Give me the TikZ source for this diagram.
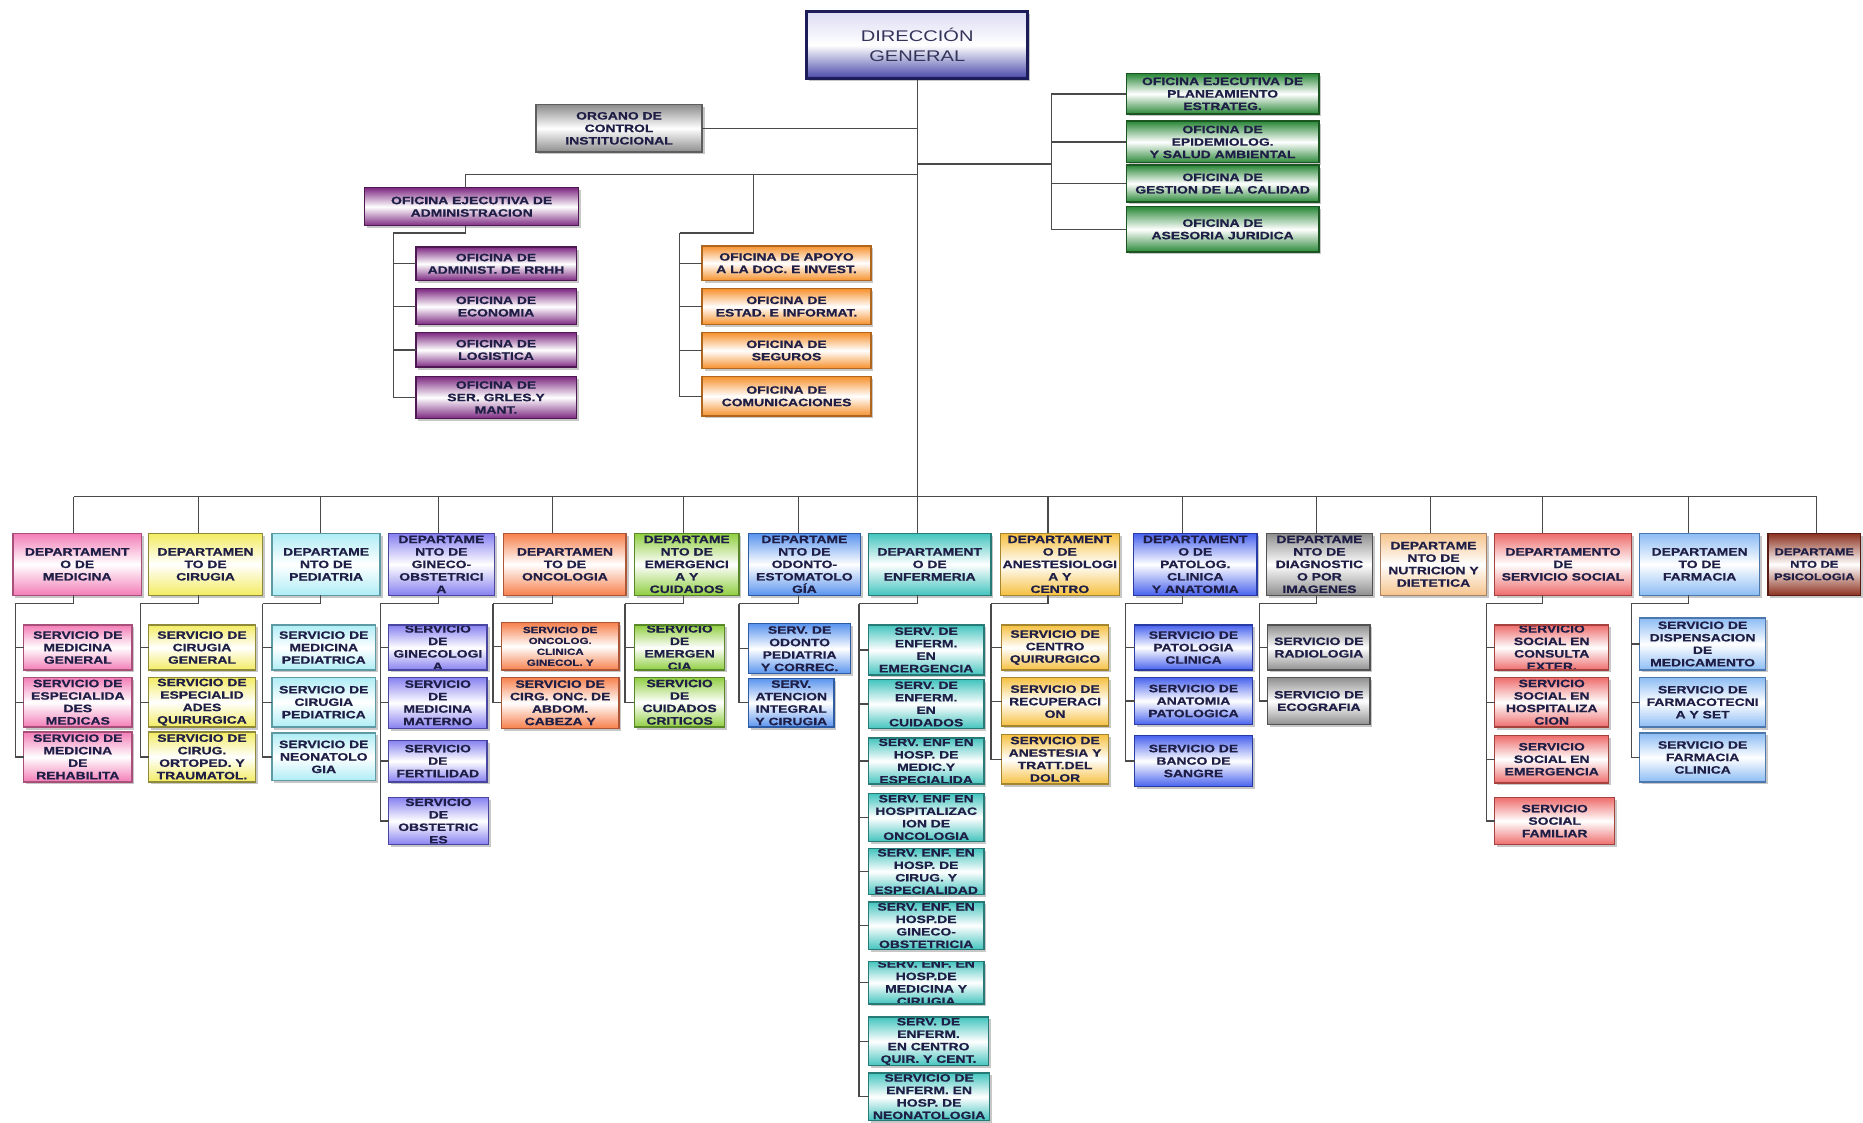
\documentclass[tikz,border=0pt]{standalone}
\usepackage{fontspec}
\setmainfont{Liberation Sans}
\newfontfamily\bxfont{Liberation Sans}[FakeStretch=1.3,FakeBold=0.8]
\newfontfamily\dgfont{Liberation Sans}[FakeStretch=1.3]
\usetikzlibrary{calc}
\definecolor{txtc}{HTML}{1E1E46}
\definecolor{lnc}{HTML}{4A4A4A}
\definecolor{dgT}{HTML}{DCDCF4}
\definecolor{dgB}{HTML}{4646A8}
\definecolor{dgD}{HTML}{1C1C58}
\definecolor{dgText}{HTML}{34345A}
\definecolor{gryC}{HTML}{8C8C8C}\definecolor{gryD}{HTML}{5E5E5E}
\definecolor{dgnC}{HTML}{2A8838}\definecolor{dgnD}{HTML}{1A5522}
\definecolor{purC}{HTML}{7E2A82}\definecolor{purD}{HTML}{4E1952}
\definecolor{orgC}{HTML}{F6922E}\definecolor{orgD}{HTML}{B0661C}
\definecolor{pinkC}{HTML}{F37DB7}\definecolor{pinkD}{HTML}{A8507A}
\definecolor{yelC}{HTML}{F3EC62}\definecolor{yelD}{HTML}{8E8A3A}
\definecolor{cyaC}{HTML}{AEEDF5}\definecolor{cyaD}{HTML}{5E9AA4}
\definecolor{lavC}{HTML}{8780F0}\definecolor{lavD}{HTML}{4846A0}
\definecolor{salC}{HTML}{F7804C}\definecolor{salD}{HTML}{AE5638}
\definecolor{grnC}{HTML}{90CE40}\definecolor{grnD}{HTML}{58882A}
\definecolor{bluC}{HTML}{5A94EE}\definecolor{bluD}{HTML}{2E5CA4}
\definecolor{teaC}{HTML}{44C4BE}\definecolor{teaD}{HTML}{287A76}
\definecolor{golC}{HTML}{F6C040}\definecolor{golD}{HTML}{A4862E}
\definecolor{royC}{HTML}{4862EE}\definecolor{royD}{HTML}{283AA4}
\definecolor{dgyC}{HTML}{8E8E8E}\definecolor{dgyD}{HTML}{525252}
\definecolor{pchC}{HTML}{F6C48C}\definecolor{pchD}{HTML}{A68268}
\definecolor{redC}{HTML}{EE6C6C}\definecolor{redD}{HTML}{A6423E}
\definecolor{lblC}{HTML}{8CBCF4}\definecolor{lblD}{HTML}{4C78AE}
\definecolor{brnC}{HTML}{8C3220}\definecolor{brnD}{HTML}{581C12}
\tikzset{
  bx/.style={draw=#1D, line width=1.2pt, top color=#1C, bottom color=#1C, middle color=white, inner sep=0pt, outer sep=0pt},
  txt/.style={align=center, text=txtc, inner sep=0pt, font=\bxfont\bfseries\fontsize{9}{10.5}\selectfont},
  con/.style={draw=lnc, line width=1.1pt},
  shd/.style={fill=black, opacity=0.22},
}
% #1 extra text options, #2 name, #3 x1, #4 y1, #5 x2, #6 y2, #7 colour, #8 text
\newcommand\ob[8][]{%
  \fill[shd] ({#3+2},{#4+2}) rectangle ({#5+2},{#6+2});
  \node[bx=#7, minimum width={(#5-#3)*1pt}, minimum height={(#6-#4)*1pt},
        path picture={\node[txt,#1] at (path picture bounding box.center) {#8};}]
        (#2) at ({(#3+#5)/2},{(#4+#6)/2}) {};}
% department wiring: #1 dept, #2 drop x, #3 vertical x, #4 children
\newcommand\wire[4]{%
  \coordinate (j#1) at (#2,508);
  \coordinate (v#1) at (#3,508);
  \draw[con] (j#1 |- bus) -- (j#1 |- #1.north);
  \draw[con] (j#1 |- #1.south) -- (j#1) -- (v#1);
  \foreach \c in {#4}{\draw[con] (v#1) -- (v#1 |- \c.west) -- (\c.west);}}
\newcommand\drop[2]{%
  \coordinate (j#1) at (#2,508);
  \draw[con] (j#1 |- bus) -- (j#1 |- #1.north);}
\begin{document}
\begin{tikzpicture}[x=1pt,y=-1pt]
\useasboundingbox (0,0) rectangle (1568,945);
\fill[white] (0,0) rectangle (1568,945);
\clip (0,0) rectangle (1568,945);
\coordinate (bus) at (0,418);

% ---------- top level ----------
\fill[shd] (681,12) rectangle (867,68);
\node[draw=dgD, line width=2.6pt, top color=dgT, bottom color=dgB, middle color=white,
      minimum width=186pt, minimum height=56pt, align=center, inner sep=0pt,
      font=\dgfont\fontsize{13}{17}\selectfont, text=dgText] (dg) at (772,38) {DIRECCIÓN\\GENERAL};

\ob{oci}{451}{88}{591}{128}{gry}{ORGANO DE\\CONTROL\\INSTITUCIONAL}

\ob{gPla}{948}{62}{1110}{96}{dgn}{OFICINA EJECUTIVA DE\\PLANEAMIENTO\\ESTRATEG.}
\ob{gEpi}{948}{102}{1110}{137}{dgn}{OFICINA DE\\EPIDEMIOLOG.\\Y SALUD AMBIENTAL}
\ob{gCal}{948}{139}{1110}{170}{dgn}{OFICINA DE\\GESTION DE LA CALIDAD}
\ob{gAse}{948}{174}{1110}{212}{dgn}{OFICINA DE\\ASESORIA JURIDICA}

\ob{adm}{307}{158}{487}{190}{pur}{OFICINA EJECUTIVA DE\\ADMINISTRACION}
\ob{aRrh}{350}{208}{485}{236}{pur}{OFICINA DE\\ADMINIST. DE RRHH}
\ob{aEco}{350}{243}{485}{273}{pur}{OFICINA DE\\ECONOMIA}
\ob{aLog}{350}{280}{485}{309}{pur}{OFICINA DE\\LOGISTICA}
\ob{aSer}{350}{317}{485}{352}{pur}{OFICINA DE\\SER. GRLES.Y\\MANT.}

\ob{oApo}{591}{207}{733}{236}{org}{OFICINA DE APOYO\\A LA DOC. E INVEST.}
\ob{oEst}{591}{243}{733}{273}{org}{OFICINA DE\\ESTAD. E INFORMAT.}
\ob{oSeg}{591}{280}{733}{310}{org}{OFICINA DE\\SEGUROS}
\ob{oCom}{591}{317}{733}{350}{org}{OFICINA DE\\COMUNICACIONES}

% ---------- departments ----------
\ob{dMed}{11}{449}{119}{501}{pink}{DEPARTAMENT\\O DE\\MEDICINA}
\ob{dCir}{125}{449}{221}{501}{yel}{DEPARTAMEN\\TO DE\\CIRUGIA}
\ob{dPed}{229}{449}{320}{501}{cya}{DEPARTAME\\NTO DE\\PEDIATRIA}
\ob{dGin}{327}{449}{416}{501}{lav}{DEPARTAME\\NTO DE\\GINECO-\\OBSTETRICI\\A}
\ob{dOnc}{424}{449}{527}{501}{sal}{DEPARTAMEN\\TO DE\\ONCOLOGIA}
\ob{dEme}{534}{449}{622}{501}{grn}{DEPARTAME\\NTO DE\\EMERGENCI\\A Y\\CUIDADOS}
\ob{dOdo}{630}{449}{724}{501}{blu}{DEPARTAME\\NTO DE\\ODONTO-\\ESTOMATOLO\\GÍA}
\ob{dEnf}{731}{449}{834}{501}{tea}{DEPARTAMENT\\O DE\\ENFERMERIA}
\ob{dAne}{842}{449}{942}{501}{gol}{DEPARTAMENT\\O DE\\ANESTESIOLOGI\\A Y\\CENTRO}
\ob{dPat}{954}{449}{1058}{501}{roy}{DEPARTAMENT\\O DE\\PATOLOG.\\CLINICA\\Y ANATOMIA}
\ob{dDia}{1066}{449}{1155}{501}{dgy}{DEPARTAME\\NTO DE\\DIAGNOSTIC\\O POR\\IMAGENES}
\ob{dNut}{1162}{449}{1251}{501}{pch}{DEPARTAME\\NTO DE\\NUTRICION Y\\DIETETICA}
\ob{dSoc}{1258}{449}{1373}{501}{red}{DEPARTAMENTO\\DE\\SERVICIO SOCIAL}
\ob{dFar}{1380}{449}{1481}{501}{lbl}{DEPARTAMEN\\TO DE\\FARMACIA}
\ob[font=\bxfont\bfseries\fontsize{8.3}{10.5}\selectfont]{dPsi}{1488}{449}{1566}{501}{brn}{DEPARTAME\\NTO DE\\PSICOLOGIA}

% ---------- services ----------
\ob{sMed1}{20}{526}{111}{564}{pink}{SERVICIO DE\\MEDICINA\\GENERAL}
\ob{sMed2}{20}{570}{111}{612}{pink}{SERVICIO DE\\ESPECIALIDA\\DES\\MEDICAS}
\ob{sMed3}{20}{616}{111}{658}{pink}{SERVICIO DE\\MEDICINA\\DE\\REHABILITA}

\ob{sCir1}{125}{526}{215}{564}{yel}{SERVICIO DE\\CIRUGIA\\GENERAL}
\ob{sCir2}{125}{570}{215}{612}{yel}{SERVICIO DE\\ESPECIALID\\ADES\\QUIRURGICA}
\ob{sCir3}{125}{616}{215}{658}{yel}{SERVICIO DE\\CIRUG.\\ORTOPED. Y\\TRAUMATOL.}

\ob{sPed1}{229}{526}{316}{564}{cya}{SERVICIO DE\\MEDICINA\\PEDIATRICA}
\ob{sPed2}{229}{570}{316}{612}{cya}{SERVICIO DE\\CIRUGIA\\PEDIATRICA}
\ob{sPed3}{229}{617}{316}{657}{cya}{SERVICIO DE\\NEONATOLO\\GIA}

\ob{sGin1}{327}{526}{410}{564}{lav}{SERVICIO\\DE\\GINECOLOGI\\A}
\ob{sGin2}{327}{570}{410}{613}{lav}{SERVICIO\\DE\\MEDICINA\\MATERNO}
\ob{sGin3}{327}{623}{410}{658}{lav}{SERVICIO\\DE\\FERTILIDAD}
\ob{sGin4}{327}{671}{411}{711}{lav}{SERVICIO\\DE\\OBSTETRIC\\ES}

\ob[font=\bxfont\bfseries\fontsize{7.5}{9.2}\selectfont]{sOnc1}{422}{524}{521}{564}{sal}{SERVICIO DE\\ONCOLOG.\\CLINICA\\GINECOL. Y}
\ob{sOnc2}{422}{570}{521}{613}{sal}{SERVICIO DE\\CIRG. ONC. DE\\ABDOM.\\CABEZA Y}

\ob{sEme1}{534}{526}{610}{564}{grn}{SERVICIO\\DE\\EMERGEN\\CIA}
\ob{sEme2}{534}{570}{610}{612}{grn}{SERVICIO\\DE\\CUIDADOS\\CRITICOS}

\ob{sOdo1}{630}{525}{716}{567}{blu}{SERV. DE\\ODONTO\\PEDIATRIA\\Y CORREC.}
\ob{sOdo2}{630}{571}{702}{612}{blu}{SERV.\\ATENCION\\INTEGRAL\\Y CIRUGIA}

\ob{sEnf1}{731}{526}{828}{568}{tea}{SERV. DE\\ENFERM.\\EN\\EMERGENCIA}
\ob{sEnf2}{731}{572}{828}{613}{tea}{SERV. DE\\ENFERM.\\EN\\CUIDADOS}
\ob{sEnf3}{731}{621}{828}{660}{tea}{SERV. ENF EN\\HOSP. DE\\MEDIC.Y\\ESPECIALIDA}
\ob{sEnf4}{731}{668}{828}{708}{tea}{SERV. ENF EN\\HOSPITALIZAC\\ION DE\\ONCOLOGIA}
\ob{sEnf5}{731}{714}{828}{753}{tea}{SERV. ENF. EN\\HOSP. DE\\CIRUG. Y\\ESPECIALIDAD}
\ob{sEnf6}{731}{759}{828}{799}{tea}{SERV. ENF. EN\\HOSP.DE\\GINECO-\\OBSTETRICIA}
\ob{sEnf7}{731}{809}{828}{845}{tea}{SERV. ENF. EN\\HOSP.DE\\MEDICINA Y\\CIRUGIA}
\ob{sEnf8}{731}{856}{832}{897}{tea}{SERV. DE\\ENFERM.\\EN CENTRO\\QUIR. Y CENT.}
\ob{sEnf9}{731}{903}{833}{943}{tea}{SERVICIO DE\\ENFERM. EN\\HOSP. DE\\NEONATOLOGIA}

\ob{sAne1}{843}{526}{933}{564}{gol}{SERVICIO DE\\CENTRO\\QUIRURGICO}
\ob{sAne2}{843}{570}{933}{611}{gol}{SERVICIO DE\\RECUPERACI\\ON}
\ob{sAne3}{843}{618}{933}{660}{gol}{SERVICIO DE\\ANESTESIA Y\\TRATT.DEL\\DOLOR}

\ob{sPat1}{955}{526}{1054}{564}{roy}{SERVICIO DE\\PATOLOGIA\\CLINICA}
\ob{sPat2}{955}{570}{1054}{610}{roy}{SERVICIO DE\\ANATOMIA\\PATOLOGICA}
\ob{sPat3}{955}{619}{1054}{662}{roy}{SERVICIO DE\\BANCO DE\\SANGRE}

\ob{sDia1}{1067}{526}{1153}{564}{dgy}{SERVICIO DE\\RADIOLOGIA}
\ob{sDia2}{1067}{570}{1153}{610}{dgy}{SERVICIO DE\\ECOGRAFIA}

\ob{sSoc1}{1258}{526}{1354}{564}{red}{SERVICIO\\SOCIAL EN\\CONSULTA\\EXTER.}
\ob{sSoc2}{1258}{570}{1354}{612}{red}{SERVICIO\\SOCIAL EN\\HOSPITALIZA\\CION}
\ob{sSoc3}{1258}{619}{1354}{659}{red}{SERVICIO\\SOCIAL EN\\EMERGENCIA}
\ob{sSoc4}{1258}{671}{1359}{711}{red}{SERVICIO\\SOCIAL\\FAMILIAR}

\ob{sFar1}{1380}{520}{1486}{564}{lbl}{SERVICIO DE\\DISPENSACION\\DE\\MEDICAMENTO}
\ob{sFar2}{1380}{570}{1486}{612}{lbl}{SERVICIO DE\\FARMACOTECNI\\A Y SET}
\ob{sFar3}{1380}{617}{1486}{658}{lbl}{SERVICIO DE\\FARMACIA\\CLINICA}

% ---------- connectors: top ----------
\draw[con] (dg.south) -- (dg.south |- bus);
\draw[con] (oci.east) -- (oci.east -| dg.south);
\coordinate (gb) at (885,138);
\draw[con] (gb -| dg.south) -- (gb);
\foreach \c in {gPla,gEpi,gCal,gAse}{\draw[con] (gb) -- (gb |- \c.west) -- (\c.west);}
\coordinate (aT) at (392,147);
\coordinate (oT) at (634,147);
\draw[con] (aT -| dg.south) -- (aT) -- (aT |- adm.north);
\coordinate (aJ) at (392,196);
\coordinate (aV) at (331,196);
\draw[con] (aJ |- adm.south) -- (aJ) -- (aV);
\foreach \c in {aRrh,aEco,aLog,aSer}{\draw[con] (aV) -- (aV |- \c.west) -- (\c.west);}
\coordinate (oJ) at (634,196);
\coordinate (oV) at (572,196);
\draw[con] (oT) -- (oJ) -- (oV);
\foreach \c in {oApo,oEst,oSeg,oCom}{\draw[con] (oV) -- (oV |- \c.west) -- (\c.west);}

% ---------- connectors: departments ----------
\wire{dMed}{62}{13}{sMed1,sMed2,sMed3}
\wire{dCir}{167}{118}{sCir1,sCir2,sCir3}
\wire{dPed}{270}{221}{sPed1,sPed2,sPed3}
\wire{dGin}{369}{320}{sGin1,sGin2,sGin3,sGin4}
\wire{dOnc}{465}{415}{sOnc1,sOnc2}
\wire{dEme}{575}{526}{sEme1,sEme2}
\wire{dOdo}{672}{622}{sOdo1,sOdo2}
\wire{dEnf}{772}{723}{sEnf1,sEnf2,sEnf3,sEnf4,sEnf5,sEnf6,sEnf7,sEnf8,sEnf9}
\wire{dAne}{882}{834}{sAne1,sAne2,sAne3}
\wire{dPat}{995}{947}{sPat1,sPat2,sPat3}
\wire{dDia}{1108}{1060}{sDia1,sDia2}
\drop{dNut}{1204}
\wire{dSoc}{1298}{1251}{sSoc1,sSoc2,sSoc3,sSoc4}
\wire{dFar}{1421}{1373}{sFar1,sFar2,sFar3}
\drop{dPsi}{1529}
\draw[con] (jdMed |- bus) -- (jdPsi |- bus);
\end{tikzpicture}
\end{document}
